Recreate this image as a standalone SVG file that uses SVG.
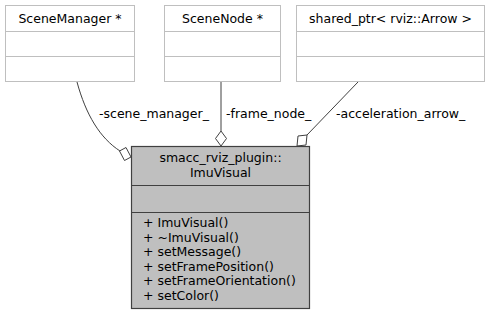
<svg xmlns="http://www.w3.org/2000/svg" width="490" height="316" viewBox="0 0 490 316">
  <style>
    text { font-family: "DejaVu Sans", "Liberation Sans", sans-serif; font-size: 12.5px; fill: #000; }
    .mid { text-anchor: middle; }
    .ext rect, .ext line { fill: #fff; stroke: #bfbfbf; stroke-width: 1; }
    .main rect { fill: #bfbfbf; stroke: #404040; stroke-width: 1.2; }
    .main line { stroke: #404040; stroke-width: 1.2; }
    .edge { fill: none; stroke: #404040; stroke-width: 1; }
    .diamond { fill: #fff; stroke: #404040; stroke-width: 1; }
  </style>
  <rect width="490" height="316" fill="#fff"/>

  <g id="SceneManager" class="ext">
    <rect x="5.5" y="5.5" width="129" height="76"/>
    <line x1="5.5" y1="31.5" x2="134.5" y2="31.5"/>
    <line x1="5.5" y1="56.5" x2="134.5" y2="56.5"/>
    <text class="mid" x="70" y="23">SceneManager *</text>
  </g>

  <g id="SceneNode" class="ext">
    <rect x="164.5" y="5.5" width="116" height="76"/>
    <line x1="164.5" y1="31.5" x2="280.5" y2="31.5"/>
    <line x1="164.5" y1="56.5" x2="280.5" y2="56.5"/>
    <text class="mid" x="222.5" y="23">SceneNode *</text>
  </g>

  <g id="SharedPtrArrow" class="ext">
    <rect x="296.5" y="5.5" width="188" height="76"/>
    <line x1="296.5" y1="31.5" x2="484.5" y2="31.5"/>
    <line x1="296.5" y1="56.5" x2="484.5" y2="56.5"/>
    <text class="mid" x="390.5" y="23">shared_ptr&lt; rviz::Arrow &gt;</text>
  </g>

  <g id="connectors">
    <path class="edge" d="M77,82 C86,115 100,138 120,151"/>
    <polygon class="diamond" points="131,157 124.5,160.5 119.5,151 126,147.5"/>
    <text x="99" y="118">-scene_manager_</text>

    <line class="edge" x1="221" y1="82" x2="221" y2="131"/>
    <polygon class="diamond" points="221,146 215.5,138.5 221,131 226.5,138.5"/>
    <text x="226" y="118">-frame_node_</text>

    <line class="edge" x1="358" y1="82" x2="307" y2="135"/>
    <polygon class="diamond" points="297,146 298,136 307,135 306,145"/>
    <text x="336" y="118">-acceleration_arrow_</text>
  </g>

  <g id="ImuVisual" class="main">
    <rect x="131.5" y="146.5" width="178" height="162"/>
    <line x1="131.5" y1="185.5" x2="309.5" y2="185.5"/>
    <line x1="131.5" y1="212.5" x2="309.5" y2="212.5"/>
    <text class="mid" x="220.5" y="162">smacc_rviz_plugin::</text>
    <text class="mid" x="220.5" y="177">ImuVisual</text>
    <text x="143" y="227">+ ImuVisual()</text>
    <text x="143" y="241.5">+ ~ImuVisual()</text>
    <text x="143" y="256">+ setMessage()</text>
    <text x="143" y="270.5">+ setFramePosition()</text>
    <text x="143" y="285">+ setFrameOrientation()</text>
    <text x="143" y="299.5">+ setColor()</text>
  </g>
</svg>
